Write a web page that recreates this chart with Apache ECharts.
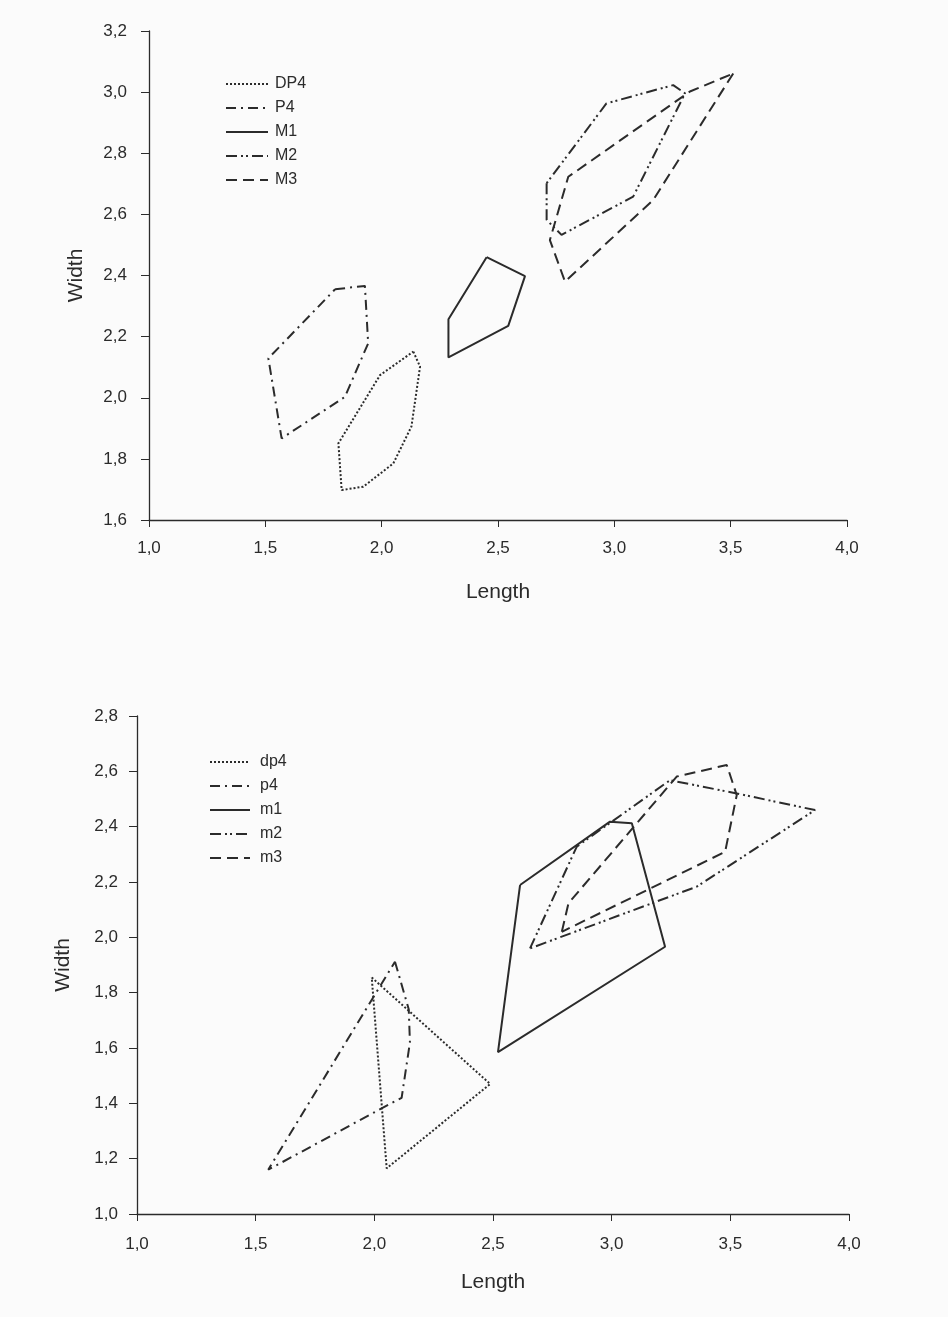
<!DOCTYPE html>
<html>
<head>
<meta charset="utf-8">
<script src="https://cdn.jsdelivr.net/npm/echarts@6/dist/echarts.min.js"></script>
<style>
  html, body { margin: 0; padding: 0; background: #fbfbfb; }
  #main { width: 948px; height: 1317px; }
</style>
</head>
<body>
<div id="main"></div>
<script>
// upper chart (capital labels), polygons closed by repeating first point
const upperNames = ['DP4', 'P4', 'M1', 'M2', 'M3']
const upperDP4 = [[2.136, 2.151], [2.165, 2.102], [2.128, 1.906], [2.05, 1.785], [1.921, 1.709], [1.828, 1.698], [1.814, 1.851], [1.993, 2.074], [2.136, 2.151]]
const upperP4 = [[1.80, 2.355], [1.928, 2.366], [1.942, 2.178], [1.842, 2.003], [1.570, 1.867], [1.513, 2.129], [1.80, 2.355]]
const upperM1 = [[2.451, 2.460], [2.616, 2.398], [2.544, 2.235], [2.287, 2.132], [2.287, 2.257], [2.451, 2.460]]
const upperM2 = [[2.709, 2.702], [2.709, 2.582], [2.773, 2.533], [3.081, 2.658], [3.304, 2.996], [3.253, 3.023], [2.966, 2.963], [2.709, 2.702]]
const upperM3 = [[3.511, 3.061], [3.167, 2.647], [2.788, 2.380], [2.723, 2.516], [2.802, 2.723], [3.325, 3.002], [3.511, 3.061]]

// lower chart (lower-case labels)
const lowerNames = ['dp4', 'p4', 'm1', 'm2', 'm3']
const lowerDP4 = [[1.989, 1.855], [2.488, 1.470], [2.052, 1.165], [1.989, 1.855]]
const lowerP4 = [[2.087, 1.912], [2.145, 1.74], [2.15, 1.62], [2.115, 1.42], [2.07, 1.40], [1.553, 1.16], [2.087, 1.912]]
const lowerM1 = [[2.614, 2.189], [2.993, 2.418], [3.085, 2.412], [3.225, 1.966], [2.521, 1.585], [2.614, 2.189]]
const lowerM2 = [[2.656, 1.960], [2.853, 2.328], [3.246, 2.568], [3.527, 2.520], [3.857, 2.460], [3.358, 2.183], [2.656, 1.960]]
const lowerM3 = [[2.790, 2.020], [2.818, 2.123], [3.274, 2.581], [3.485, 2.623], [3.527, 2.514], [3.478, 2.309], [2.790, 2.020]]

const xTicks = [1.0, 1.5, 2.0, 2.5, 3.0, 3.5, 4.0]
const upperYRange = [1.6, 3.2]
const lowerYRange = [1.0, 2.8]

const ink = '#2b2b2b'
const font = 'Liberation Sans, Arial, sans-serif'
// dotted, dash-dot, solid, dash-dot-dot, dashed
const dashes = [[2, 2], [10, 5, 2, 5], 'solid', [11, 4, 2, 3, 2, 4], [11, 6]]

function comma(v) {
  return v.toFixed(1).replace('.', ',')
}

function makeSeries(names, lists, idx) {
  return names.map(function (n, i) {
    return {
      name: n,
      type: 'line',
      xAxisIndex: idx,
      yAxisIndex: idx,
      data: lists[i],
      symbol: 'none',
      silent: true,
      lineStyle: { color: ink, width: 2, type: dashes[i] },
      itemStyle: { color: ink }
    }
  })
}

function xAxis(idx, gap, margin) {
  return {
    type: 'value', gridIndex: idx, min: xTicks[0], max: xTicks[xTicks.length - 1], interval: 0.5,
    name: 'Length', nameLocation: 'middle', nameGap: gap,
    nameTextStyle: { color: ink, fontSize: 21, fontFamily: font },
    axisLine: { lineStyle: { color: ink, width: 1.3 } },
    axisTick: { inside: false, length: 7, lineStyle: { color: ink } },
    axisLabel: { color: ink, fontSize: 17, fontFamily: font, margin: margin, formatter: comma },
    splitLine: { show: false }
  }
}

function yAxis(idx, range, gap, margin) {
  return {
    type: 'value', gridIndex: idx, min: range[0], max: range[1], interval: 0.2,
    name: 'Width', nameLocation: 'middle', nameGap: gap,
    nameTextStyle: { color: ink, fontSize: 21, fontFamily: font },
    axisLine: { show: true, lineStyle: { color: ink, width: 1.3 } },
    axisTick: { show: true, inside: false, length: 8, lineStyle: { color: ink } },
    axisLabel: { color: ink, fontSize: 17, fontFamily: font, margin: margin, formatter: comma },
    splitLine: { show: false }
  }
}

function legend(names, left, top, w, pad) {
  return {
    data: names, left: left, top: top, orient: 'vertical',
    itemWidth: w, itemHeight: 10, itemGap: 8,
    itemStyle: { color: 'rgba(0,0,0,0)', borderWidth: 0 },
    textStyle: { color: ink, fontSize: 16, fontFamily: font, padding: [0, 0, 0, pad] },
    selectedMode: false
  }
}

const chart = echarts.init(document.getElementById('main'), null, { renderer: 'canvas' })
chart.setOption({
  backgroundColor: '#fbfbfb',
  animation: false,
  grid: [
    { left: 149, top: 31, right: 101, bottom: 797 },
    { left: 137, top: 716, right: 99, bottom: 103 }
  ],
  legend: [legend(upperNames, 220, 71, 42, 2), legend(lowerNames, 204, 749, 40, 5)],
  xAxis: [xAxis(0, 62, 20), xAxis(1, 58, 22)],
  yAxis: [yAxis(0, upperYRange, 62, 22), yAxis(1, lowerYRange, 63, 19)],
  series: makeSeries(upperNames, [upperDP4, upperP4, upperM1, upperM2, upperM3], 0)
    .concat(makeSeries(lowerNames, [lowerDP4, lowerP4, lowerM1, lowerM2, lowerM3], 1))
})
</script>
</body>
</html>
